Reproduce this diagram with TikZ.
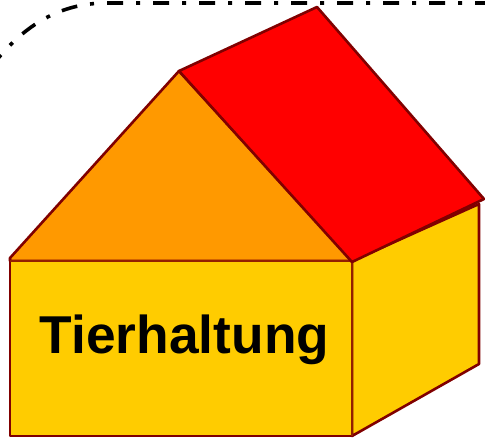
\documentclass[tikz,border=0pt]{standalone}
\usepackage{fontspec}
\setmainfont{Liberation Sans}
\definecolor{wallc}{HTML}{FFCC00}
\definecolor{gablec}{HTML}{FF9900}
\definecolor{roofc}{HTML}{FF0000}
\definecolor{edgec}{HTML}{800000}
\tikzset{
  face/.style={draw=edgec,line width=2.6pt,line join=round},
  thinface/.style={draw=edgec!85!wallc,line width=1.6pt,line join=round},
  boundary/.style={draw=black,line width=3.6pt,dash pattern=on 16pt off 13pt on 4pt off 13pt}
}
\begin{document}
\begin{tikzpicture}[x=1pt,y=-1pt]
\useasboundingbox (0,0) rectangle (485,440);
\begin{scope}
\clip (0,0) rectangle (485,440);
\draw[boundary] (491,3) -- (107,3) .. controls (60,3) and (25,25) .. (-5,62);
\coordinate (frontTL) at (10,261);
\coordinate (gableL) at (10,258);
\coordinate (frontTR) at (352,261);
\coordinate (roofLow) at (352,262);
\coordinate (frontBR) at (352,436);
\coordinate (frontBL) at (10,436);
\coordinate (sideTR) at (479,204);
\coordinate (sideBR) at (479,364);
\coordinate (ridgeF) at (179,71);
\coordinate (ridgeB) at (317,7);
\coordinate (eaveB) at (484,199);
\draw[face,fill=wallc] (frontTR) -- (sideTR) -- (sideBR) -- (frontBR) -- cycle;
\draw[face,fill=gablec] (gableL) -- (ridgeF) -- (frontTR) -- (frontTL) -- cycle;
\draw[face,fill=wallc] (gableL) -- (frontBL) -- (frontBR) -- (frontTR) -- (frontTL) -- cycle;
\draw[thinface] (frontTL) -- (frontTR) -- (frontBR);
\draw[face,fill=roofc] (ridgeF) -- (ridgeB) -- (eaveB) -- (roofLow) -- cycle;
\end{scope}
\node[font=\fontsize{53.3}{60}\selectfont\bfseries,anchor=base,inner sep=0pt] (label) at (184.5,353) {Tierhaltung};
\end{tikzpicture}
\end{document}
